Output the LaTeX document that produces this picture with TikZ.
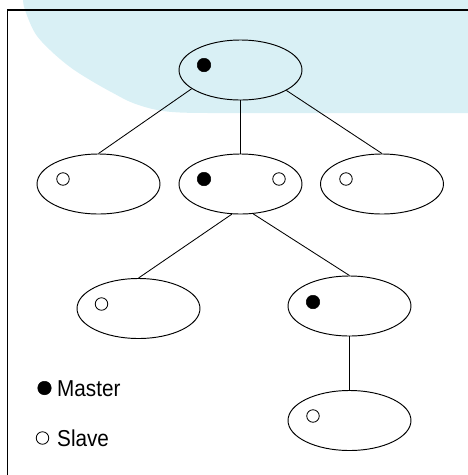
\documentclass[tikz,border=0pt]{standalone}
\usepackage{fontspec}
\setmainfont{Liberation Sans}
\newfontfamily\legendfont[FakeStretch=0.9]{Liberation Sans}
\usetikzlibrary{shapes.geometric}
\definecolor{bgblue}{RGB}{217,240,245}
\begin{document}
\begin{tikzpicture}[x=1pt,y=-1pt,
  unit/.style={draw=black,line width=0.95pt,ellipse,minimum width=123pt,minimum height=60pt,inner sep=0pt},
  master/.style={circle,fill=black,draw=black,line width=0.5pt,minimum size=13.5pt,inner sep=0pt},
  slave/.style={circle,fill=white,draw=black,line width=0.8pt,minimum size=12.5pt,inner sep=0pt},
  link/.style={draw=black,line width=0.85pt},
  legend/.style={anchor=base west,inner sep=0pt,font=\legendfont\fontsize{23pt}{26pt}\selectfont}]
\useasboundingbox (0,0) rectangle (468,475);
% blue background shape
\fill[bgblue] plot[smooth,tension=0.6] coordinates {(22,-8) (23,0) (25,10) (35,33) (50,50) (70,67) (90,80) (113,93) (133,103) (157,110) (180,112.5) (210,113)}
  -- (468,113) -- (468,-8) -- cycle;
% frame
\draw[line width=1.1pt] (468,10) -- (7.5,10) -- (7.5,475);
% ellipses
\node[unit] (top) at (240.5,70) {};
\node[unit] (l2a) at (98.5,184) {};
\node[unit] (l2b) at (240.5,184) {};
\node[unit] (l2c) at (382,184) {};
\node[unit] (l3a) at (138.5,308.5) {};
\node[unit] (l3b) at (349.5,306) {};
\node[unit] (l4) at (349.5,420.5) {};
% dots
\node[master] (dtop) at (204,65) {};
\node[slave] (d2a) at (63,179) {};
\node[master] (d2b) at (204,179) {};
\node[slave] (d2bs) at (279,179) {};
\node[slave] (d2c) at (346,179) {};
\node[slave] (d3a) at (101.5,304) {};
\node[master] (d3b) at (313,302) {};
\node[slave] (d4) at (313,416) {};
% connectors
\draw[link] (top.201) -- (l2a.north);
\draw[link] (top.south) -- (l2b.north);
\draw[link] (top.-24) -- (l2c.north);
\draw[link] (l2b.254) -- (l3a.north);
\draw[link] (l2b.293) -- (l3b.north);
\draw[link] (l3b.south) -- (l4.north);
% legend
\node[master] (lm) at (44.5,388) {};
\node[legend] (tm) at (57,396) {Master};
\node[slave] (ls) at (42.5,438) {};
\node[legend] (ts) at (57,446) {Slave};
\end{tikzpicture}
\end{document}
